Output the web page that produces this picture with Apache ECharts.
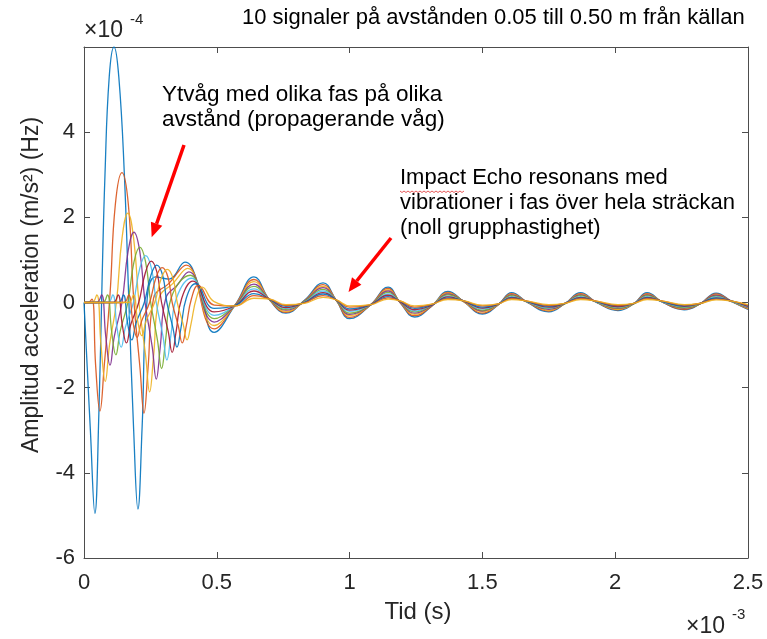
<!DOCTYPE html>
<html><head><meta charset="utf-8">
<script src="https://cdn.jsdelivr.net/npm/echarts@6/dist/echarts.min.js"></script>
<style>html,body{margin:0;padding:0;background:#fff}#c{width:767px;height:639px}</style>
</head><body><div id="c"></div>
<script>
// ---- tick labels ----
const xTickLabels = ['0','0.5','1','1.5','2','2.5'];
const yTickLabels = ['-6','-4','-2','0','2','4'];
const seriesNames = ['0.05 m','0.10 m','0.15 m','0.20 m','0.25 m','0.30 m','0.35 m','0.40 m','0.45 m','0.50 m'];
const colors = ['#0072BD','#D95319','#EDB120','#7E2F8E','#77AC30','#4DBEEE','#A2142F','#0072BD','#D95319','#EDB120'];

// ---- early part of each signal: [time (x1e-3 s), amplitude (x1e-4)] ----
const early1 = [[0,0],[0.024,-3.0],[0.041,-4.95],[0.056,-2.6],[0.068,0.5],[0.079,3.0],[0.095,5.3],[0.113,6.0],[0.131,5.3],[0.152,3.0],[0.168,0.2],[0.187,-3.0],[0.203,-4.85],[0.219,-2.9],[0.238,0.1],[0.27,0.6],[0.32,0.55],[0.38,0.95],[0.435,0.35]];
const early2 = [[0,0],[0.015,0],[0.03,0.08],[0.044,-1.5],[0.06,-2.55],[0.076,-1.5],[0.098,0.2],[0.118,2.3],[0.143,3.05],[0.167,2.3],[0.187,0.1],[0.211,-1.55],[0.226,-2.6],[0.241,-1.55],[0.262,0.1],[0.32,0.45],[0.385,0.88]];
const early3 = [[0,0],[0.03,0],[0.048,0.18],[0.064,-1.0],[0.08,-1.85],[0.096,-1.0],[0.122,0],[0.143,1.5],[0.165,2.1],[0.187,1.5],[0.207,0],[0.232,-1.25],[0.247,-2.1],[0.262,-1.25],[0.283,0.1],[0.335,0.45],[0.39,0.80]];
const early4 = [[0,0],[0.048,0],[0.066,0.18],[0.082,-0.8],[0.098,-1.47],[0.114,-0.8],[0.143,0],[0.166,1.2],[0.188,1.65],[0.21,1.2],[0.23,0],[0.257,-1.05],[0.272,-1.8],[0.287,-1.05],[0.308,0.1],[0.35,0.4],[0.395,0.72]];
const early5 = [[0,0],[0.07,0],[0.088,0.18],[0.104,-0.68],[0.12,-1.23],[0.136,-0.68],[0.165,0],[0.188,0.95],[0.21,1.3],[0.232,0.95],[0.251,0],[0.277,-0.9],[0.292,-1.55],[0.307,-0.9],[0.328,0.1],[0.40,0.64]];
const early6 = [[0,0],[0.09,0],[0.108,0.18],[0.124,-0.58],[0.14,-1.05],[0.156,-0.58],[0.186,0],[0.21,0.8],[0.232,1.1],[0.254,0.8],[0.272,0],[0.297,-0.78],[0.312,-1.35],[0.327,-0.78],[0.348,0.1],[0.405,0.57]];
const early7 = [[0,0],[0.11,0],[0.128,0.18],[0.144,-0.52],[0.16,-0.95],[0.176,-0.52],[0.206,0],[0.231,0.7],[0.253,0.97],[0.275,0.7],[0.292,0],[0.317,-0.68],[0.332,-1.17],[0.347,-0.68],[0.368,0.1],[0.41,0.50]];
const early8 = [[0,0],[0.13,0],[0.148,0.18],[0.164,-0.48],[0.18,-0.88],[0.196,-0.48],[0.227,0],[0.252,0.64],[0.274,0.88],[0.296,0.64],[0.312,0],[0.335,-0.6],[0.35,-1.05],[0.365,-0.6],[0.385,0.1],[0.42,0.44]];
const early9 = [[0,0],[0.15,0],[0.168,0.18],[0.184,-0.45],[0.2,-0.82],[0.216,-0.45],[0.247,0],[0.272,0.6],[0.294,0.82],[0.316,0.6],[0.332,0],[0.355,-0.55],[0.37,-0.95],[0.385,-0.55],[0.405,0.1],[0.43,0.40]];
const early10 = [[0,0],[0.168,0],[0.186,0.18],[0.202,-0.43],[0.218,-0.78],[0.234,-0.43],[0.266,0],[0.291,0.57],[0.313,0.78],[0.335,0.57],[0.351,0],[0.373,-0.5],[0.388,-0.88],[0.403,-0.5],[0.423,0.1],[0.445,0.36]];

// ---- resonance tail: common time samples and per-signal amplitudes ----
const tailT = [0.49,0.57,0.64,0.70,0.76,0.83,0.90,0.95,1.00,1.08,1.145,1.19,1.245,1.31,1.37,1.43,1.50,1.56,1.61,1.67,1.75,1.81,1.87,1.93,2.01,2.07,2.12,2.18,2.26,2.32,2.38,2.44,2.50];
const tail1 = [-0.70,-0.05,0.60,0.05,-0.25,0.05,0.46,0.05,-0.38,-0.05,0.36,0.00,-0.34,-0.08,0.26,0.02,-0.27,-0.05,0.23,0.00,-0.22,-0.03,0.23,0.00,-0.19,-0.03,0.23,0.00,-0.17,-0.03,0.22,0.02,-0.16];
const tail2 = [-0.62,-0.05,0.54,0.05,-0.23,0.04,0.42,0.05,-0.35,-0.05,0.33,0.00,-0.31,-0.08,0.24,0.02,-0.25,-0.05,0.21,0.00,-0.20,-0.03,0.21,0.00,-0.17,-0.03,0.21,0.00,-0.16,-0.03,0.20,0.02,-0.15];
const tail3 = [-0.54,-0.06,0.49,0.06,-0.21,0.03,0.38,0.05,-0.31,-0.05,0.30,0.01,-0.28,-0.07,0.22,0.02,-0.22,-0.05,0.19,0.01,-0.18,-0.03,0.19,0.01,-0.16,-0.03,0.19,0.01,-0.14,-0.03,0.18,0.02,-0.14];
const tail4 = [-0.46,-0.06,0.43,0.06,-0.18,0.03,0.35,0.05,-0.28,-0.05,0.27,0.01,-0.25,-0.07,0.20,0.03,-0.20,-0.04,0.18,0.01,-0.16,-0.03,0.18,0.01,-0.14,-0.03,0.18,0.01,-0.13,-0.03,0.17,0.02,-0.12];
const tail5 = [-0.38,-0.06,0.38,0.06,-0.16,0.02,0.31,0.05,-0.25,-0.05,0.24,0.02,-0.22,-0.06,0.18,0.03,-0.18,-0.04,0.16,0.01,-0.14,-0.03,0.16,0.01,-0.13,-0.03,0.16,0.01,-0.12,-0.03,0.15,0.02,-0.11];
const tail6 = [-0.30,-0.07,0.32,0.07,-0.14,0.01,0.27,0.06,-0.21,-0.05,0.20,0.02,-0.20,-0.06,0.15,0.03,-0.15,-0.04,0.14,0.01,-0.13,-0.02,0.14,0.01,-0.11,-0.02,0.14,0.01,-0.10,-0.02,0.13,0.02,-0.10];
const tail7 = [-0.22,-0.07,0.27,0.07,-0.12,0.00,0.23,0.06,-0.18,-0.05,0.17,0.02,-0.17,-0.06,0.13,0.03,-0.13,-0.04,0.12,0.02,-0.11,-0.02,0.12,0.02,-0.10,-0.02,0.12,0.02,-0.09,-0.02,0.11,0.03,-0.09];
const tail8 = [-0.14,-0.07,0.21,0.07,-0.09,0.00,0.20,0.06,-0.15,-0.05,0.14,0.03,-0.14,-0.05,0.11,0.04,-0.11,-0.03,0.11,0.02,-0.09,-0.02,0.11,0.02,-0.08,-0.02,0.11,0.02,-0.08,-0.02,0.10,0.03,-0.07];
const tail9 = [-0.06,-0.08,0.16,0.08,-0.07,-0.01,0.16,0.06,-0.11,-0.05,0.11,0.04,-0.11,-0.04,0.09,0.04,-0.08,-0.03,0.09,0.03,-0.07,-0.02,0.09,0.03,-0.07,-0.02,0.09,0.03,-0.06,-0.02,0.08,0.03,-0.06];
const tail10 = [0.02,-0.08,0.10,0.08,-0.05,-0.02,0.12,0.06,-0.08,-0.05,0.08,0.04,-0.08,-0.04,0.07,0.04,-0.06,-0.03,0.07,0.03,-0.05,-0.02,0.07,0.03,-0.05,-0.02,0.07,0.03,-0.05,-0.02,0.06,0.03,-0.05];

const earlyParts = [early1,early2,early3,early4,early5,early6,early7,early8,early9,early10];
const tailParts = [tail1,tail2,tail3,tail4,tail5,tail6,tail7,tail8,tail9,tail10];

const FF = "'Liberation Sans', Arial, Helvetica, sans-serif";
const AX = '#4d4d4d';
const TXT = '#262626';

const series = earlyParts.map((e, i) => ({
  name: seriesNames[i],
  type: 'line',
  xAxisIndex: 0, yAxisIndex: 0,
  data: e.concat(tailT.map((t, j) => [t, tailParts[i][j]])),
  showSymbol: false, symbol: 'none',
  smooth: 0.45,
  lineStyle: { color: colors[i], width: 1.3, opacity: 0.9 },
  itemStyle: { color: colors[i] },
  z: 2 + i
}));

const xBase = { type: 'value', min: 0, max: 2.5, interval: 0.5,
  axisLine: { show: true, onZero: false, lineStyle: { color: AX, width: 1 } },
  axisTick: { show: true, inside: true, length: 6, lineStyle: { color: AX } },
  splitLine: { show: false } };
const yBase = { type: 'value', min: -6, max: 6, interval: 2,
  axisLine: { show: true, onZero: false, lineStyle: { color: AX, width: 1 } },
  axisTick: { show: true, inside: true, length: 6, lineStyle: { color: AX } },
  splitLine: { show: false } };

const chart = echarts.init(document.getElementById('c'), null, { renderer: 'canvas' });
const wavy = [];
for (let k = 0; k <= 32; k++) wavy.push([400 + k * 2, 191 + (k % 2 ? 1.5 : 0)]);

chart.setOption({
  animation: false,
  backgroundColor: '#fff',
  grid: { left: 84, right: 19, top: 47, bottom: 81 },
  xAxis: [
    Object.assign({}, xBase, { position: 'bottom',
      axisLabel: { show: true, margin: 14, fontFamily: FF, fontSize: 22, color: TXT,
        formatter: v => xTickLabels[Math.round(v / 0.5)] } }),
    Object.assign({}, xBase, { position: 'top', axisLabel: { show: false } })
  ],
  yAxis: [
    Object.assign({}, yBase, { position: 'left',
      axisLabel: { show: true, margin: 9, fontFamily: FF, fontSize: 22, color: TXT,
        formatter: v => { const i = Math.round((v + 6) / 2); return i < yTickLabels.length ? yTickLabels[i] : ''; } } }),
    Object.assign({}, yBase, { position: 'right', axisLabel: { show: false } })
  ],
  series: series,
  graphic: [
    { type: 'text', style: { x: 418, y: 612, text: 'Tid (s)', fontFamily: FF, fontSize: 24, fill: TXT, align: 'center', verticalAlign: 'middle' } },
    { type: 'text', x: 32, y: 285, rotation: Math.PI / 2, style: { x: 0, y: 0, text: 'Amplitud acceleration (m/s²) (Hz)', fontFamily: FF, fontSize: 23, fill: TXT, align: 'center', verticalAlign: 'middle' } },
    { type: 'text', style: { x: 242, y: 18, text: '10 signaler på avstånden 0.05 till 0.50 m från källan', fontFamily: FF, fontSize: 22, fill: '#000', verticalAlign: 'middle' } },
    { type: 'text', style: { x: 84, y: 31, text: '×10', fontFamily: FF, fontSize: 23, fill: TXT, verticalAlign: 'middle' } },
    { type: 'text', style: { x: 130, y: 20, text: '-4', fontFamily: FF, fontSize: 15, fill: TXT, verticalAlign: 'middle' } },
    { type: 'text', style: { x: 686, y: 627, text: '×10', fontFamily: FF, fontSize: 23, fill: TXT, verticalAlign: 'middle' } },
    { type: 'text', style: { x: 732, y: 615, text: '-3', fontFamily: FF, fontSize: 15, fill: TXT, verticalAlign: 'middle' } },
    { type: 'text', style: { x: 162, y: 95, text: 'Ytvåg med olika fas på olika', fontFamily: FF, fontSize: 22.5, fill: '#000', verticalAlign: 'middle' } },
    { type: 'text', style: { x: 162, y: 120, text: 'avstånd (propagerande våg)', fontFamily: FF, fontSize: 22.5, fill: '#000', verticalAlign: 'middle' } },
    { type: 'text', style: { x: 400, y: 178, text: 'Impact Echo resonans med', fontFamily: FF, fontSize: 22, fill: '#000', verticalAlign: 'middle' } },
    { type: 'text', style: { x: 400, y: 203, text: 'vibrationer i fas över hela sträckan', fontFamily: FF, fontSize: 22, fill: '#000', verticalAlign: 'middle' } },
    { type: 'text', style: { x: 400, y: 228, text: '(noll grupphastighet)', fontFamily: FF, fontSize: 22, fill: '#000', verticalAlign: 'middle' } },
    { type: 'polyline', shape: { points: wavy }, style: { stroke: '#e03030', lineWidth: 0.8, fill: null } },
    { type: 'line', shape: { x1: 184, y1: 145, x2: 156.6, y2: 223.8 }, style: { stroke: '#ff0000', lineWidth: 3.5 } },
    { type: 'polygon', shape: { points: [[151.7, 237.3], [162.3, 225.8], [150.9, 221.8]] }, style: { fill: '#ff0000' } },
    { type: 'line', shape: { x1: 391, y1: 238, x2: 356.7, y2: 281 }, style: { stroke: '#ff0000', lineWidth: 3.5 } },
    { type: 'polygon', shape: { points: [[348.5, 292], [361.4, 284.7], [352.0, 277.3]] }, style: { fill: '#ff0000' } }
  ]
});
</script></body></html>
